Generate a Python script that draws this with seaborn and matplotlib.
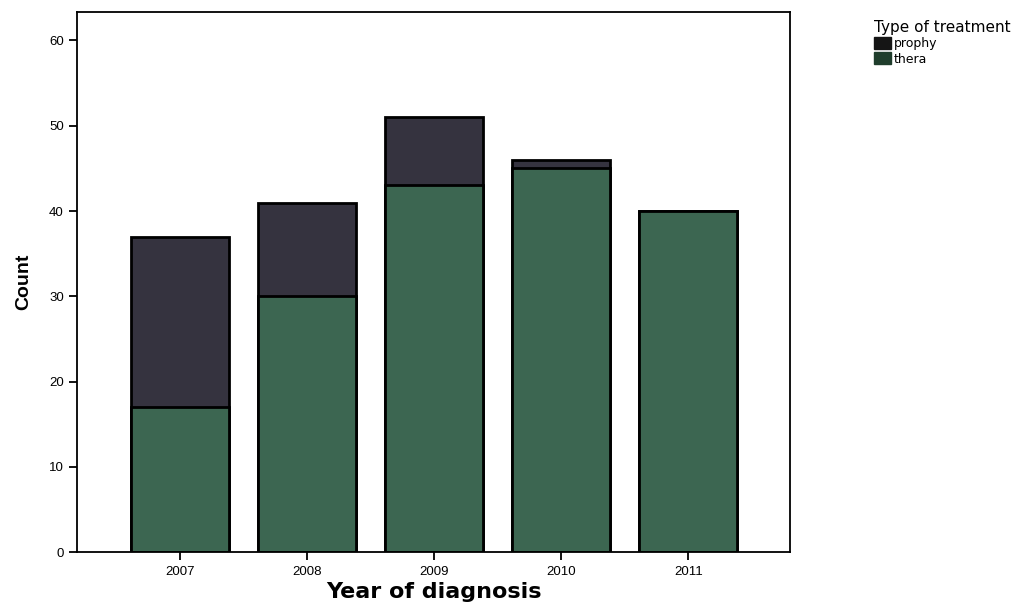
import pandas as pd
import matplotlib
matplotlib.use("Agg")
import matplotlib.pyplot as plt
import matplotlib.patches as mpatches
import seaborn as sns

years = ["2007", "2008", "2009", "2010", "2011"]
thera = [17, 30, 43, 45, 40]
prophy = [20, 11, 8, 1, 0]
y_ticks = [0, 10, 20, 30, 40, 50, 60]

df = pd.DataFrame({"year": years, "thera": thera, "prophy": prophy})
df["total"] = df["thera"] + df["prophy"]

prophy_col = "#35333f"
thera_col = "#3c6651"

sns.set_style("white")
plt.rcParams["font.family"] = ["Liberation Sans", "DejaVu Sans"]

fig = plt.figure(figsize=(10.14, 6.13), dpi=100)
ax = fig.add_axes([0.076, 0.099, 0.703, 0.881])

# stacked bars: total first (prophy colour), thera drawn over it
sns.barplot(data=df, x="year", y="total", color=prophy_col, width=0.77,
            edgecolor="black", linewidth=2, saturation=1, ax=ax)
sns.barplot(data=df, x="year", y="thera", color=thera_col, width=0.77,
            edgecolor="black", linewidth=2, saturation=1, ax=ax)

ax.set_xlim(-0.81, 4.8)
ax.set_ylim(0, 63.3)
ax.set_yticks(y_ticks)
ax.tick_params(axis="both", direction="out", length=6, width=1.3,
               labelsize=9.5, colors="black", left=True, bottom=True)
for s in ax.spines.values():
    s.set_color("black")
    s.set_linewidth(1.3)

ax.set_ylabel("Count", fontsize=14, fontweight="bold", color="black",
              labelpad=12)
ax.set_xlabel("Year of diagnosis", fontsize=16, fontweight="bold",
              color="black", family="DejaVu Sans", labelpad=3)

handles = [mpatches.Patch(facecolor="#151515", edgecolor="#151515", label="prophy"),
           mpatches.Patch(facecolor="#1f3d2c", edgecolor="#1f3d2c", label="thera")]
leg = fig.legend(handles=handles, title="Type of treatment", loc="upper left",
                 bbox_to_anchor=(0.857, 0.975), frameon=False, fontsize=9,
                 title_fontsize=11, handlelength=1.4, handleheight=1.1,
                 handletextpad=0.2, labelspacing=0.15, borderaxespad=0)
leg._legend_box.align = "left"
leg.get_title().set_family("DejaVu Sans")
leg.get_title().set_color("black")
for t in leg.get_texts():
    t.set_color("black")
    t.set_family("DejaVu Sans")

fig.savefig("out.png", dpi=100)
plt.close(fig)
